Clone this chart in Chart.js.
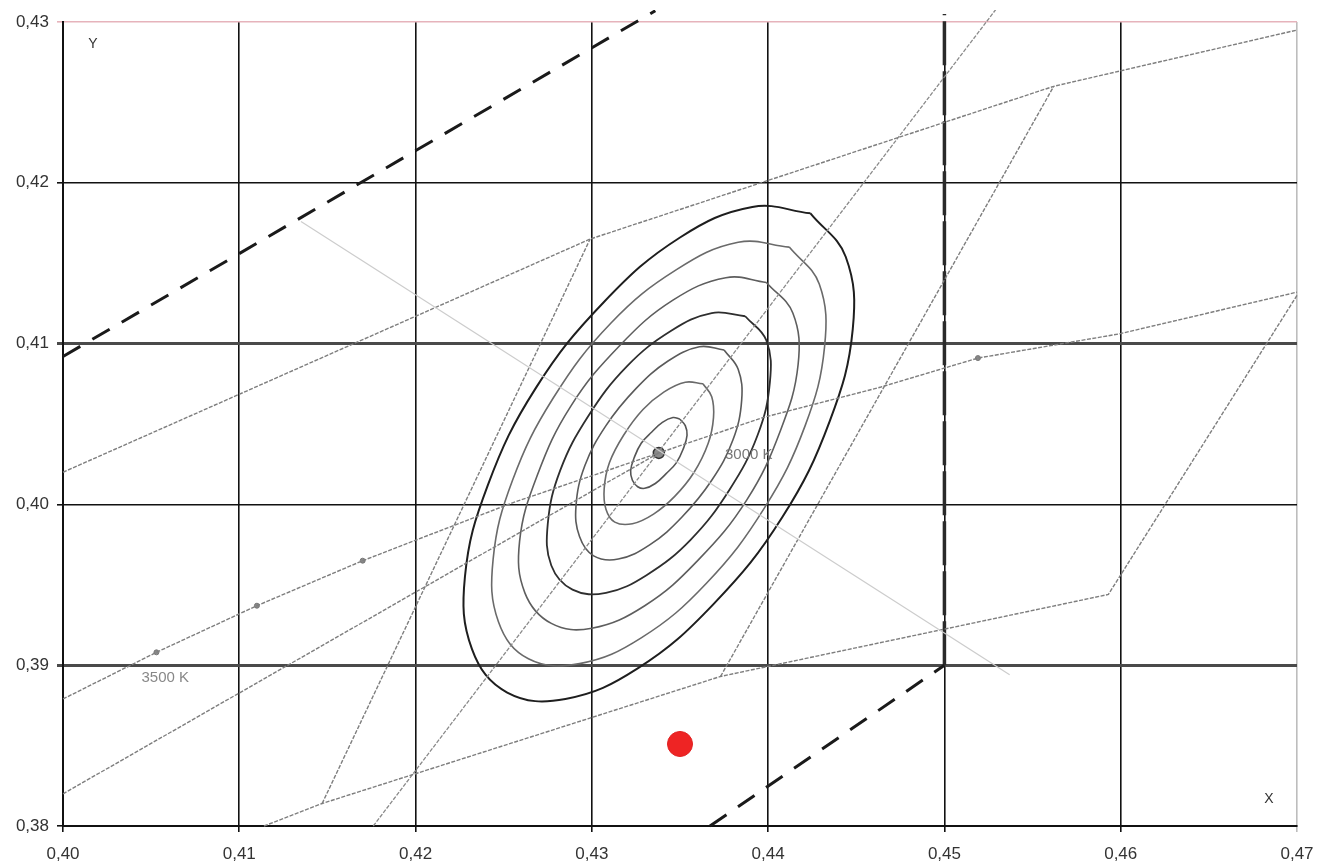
<!DOCTYPE html>
<html><head><meta charset="utf-8">
<script src="https://cdn.jsdelivr.net/npm/chart.js@4.4.0/dist/chart.umd.min.js"></script>
<style>html,body{margin:0;padding:0;background:#fff}#wrap{width:1317px;height:867px}</style>
</head><body><div id="wrap"><canvas id="c" width="1317" height="867"></canvas></div>
<script>
// ---- axis ticks ----
const xTickValues = [0.40, 0.41, 0.42, 0.43, 0.44, 0.45, 0.46, 0.47];
const xTickLabels = ['0,40', '0,41', '0,42', '0,43', '0,44', '0,45', '0,46', '0,47'];
const yTickValues = [0.38, 0.39, 0.40, 0.41, 0.42, 0.43];
const yTickLabels = ['0,38', '0,39', '0,40', '0,41', '0,42', '0,43'];

// ---- quadrangle edges (x, y) ----
const quadTopEdge = [[0.40, 0.4020], [0.4299, 0.4165], [0.4562, 0.4260], [0.47, 0.4295]];
const quadBottomEdge = [[0.4114, 0.38], [0.4147, 0.3814], [0.4373, 0.3893], [0.4593, 0.3944], [0.47, 0.4130]];
const quadLeftEdge3000 = [[0.4147, 0.3814], [0.4299, 0.4165]];
const quadRightEdge3000 = [[0.4373, 0.3893], [0.4562, 0.4260]];

// ---- Planckian locus and other guide lines ----
const planckianLocus = [[0.40, 0.3879], [0.4053, 0.3908], [0.4110, 0.3937], [0.4170, 0.3965], [0.4255, 0.4001], [0.4338, 0.4032], [0.4397, 0.4054], [0.4464, 0.4073], [0.4519, 0.4091], [0.4599, 0.4106], [0.47, 0.4132]];
const planckianMarks = [[0.4053, 0.3908], [0.4110, 0.3937], [0.4170, 0.3965], [0.4519, 0.4091]];
const centerLine = [[0.40, 0.3820], [0.4338, 0.4032]];
const majorAxis = [[0.4176, 0.38], [0.4530, 0.4309]];
const isotherm3000 = [[0.4135, 0.4176], [0.4537, 0.3894]];

// ---- bin boundary (thick dashed) ----
const binUpper = [[0.40, 0.4092], [0.4336, 0.4307]];
const binLowerDiag = [[0.4367, 0.38], [0.45, 0.39]];
const binLowerVert = [[0.45, 0.39], [0.45, 0.4305]];

// ---- MacAdam ellipses, 1 to 7 steps ----
const ellipse1 = [[0.4350,0.4053],[0.4346,0.4054],[0.4340,0.4051],[0.4334,0.4045],[0.4328,0.4038],[0.4324,0.4029],[0.4322,0.4021],[0.4323,0.4015],[0.4326,0.4011],[0.4330,0.4010],[0.4336,0.4013],[0.4342,0.4019],[0.4348,0.4026],[0.4352,0.4035],[0.4354,0.4043],[0.4353,0.4049],[0.4350,0.4053]];
const ellipse2 = [[0.4363,0.4075],[0.4353,0.4076],[0.4341,0.4070],[0.4329,0.4059],[0.4318,0.4043],[0.4310,0.4026],[0.4307,0.4010],[0.4308,0.3997],[0.4313,0.3989],[0.4323,0.3988],[0.4335,0.3994],[0.4347,0.4005],[0.4358,0.4020],[0.4366,0.4038],[0.4369,0.4054],[0.4368,0.4067],[0.4363,0.4075]];
const ellipse3 = [[0.4375,0.4096],[0.4361,0.4098],[0.4343,0.4089],[0.4325,0.4072],[0.4308,0.4049],[0.4296,0.4024],[0.4291,0.3999],[0.4293,0.3980],[0.4301,0.3968],[0.4315,0.3966],[0.4333,0.3975],[0.4351,0.3992],[0.4368,0.4015],[0.4380,0.4040],[0.4385,0.4065],[0.4383,0.4084],[0.4375,0.4096]];
const ellipse4 = [[0.4387,0.4117],[0.4368,0.4119],[0.4345,0.4108],[0.4320,0.4086],[0.4298,0.4055],[0.4282,0.4021],[0.4275,0.3988],[0.4277,0.3962],[0.4289,0.3947],[0.4308,0.3945],[0.4331,0.3956],[0.4356,0.3978],[0.4378,0.4009],[0.4394,0.4043],[0.4401,0.4076],[0.4399,0.4102],[0.4387,0.4117]];
const ellipse5 = [[0.4399,0.4138],[0.4376,0.4141],[0.4346,0.4127],[0.4316,0.4099],[0.4288,0.4061],[0.4269,0.4018],[0.4259,0.3977],[0.4262,0.3945],[0.4277,0.3926],[0.4300,0.3923],[0.4330,0.3937],[0.4360,0.3965],[0.4388,0.4003],[0.4407,0.4046],[0.4417,0.4087],[0.4414,0.4119],[0.4399,0.4138]];
const ellipse6 = [[0.4412,0.4160],[0.4383,0.4163],[0.4348,0.4146],[0.4311,0.4113],[0.4278,0.4066],[0.4255,0.4015],[0.4244,0.3966],[0.4247,0.3927],[0.4264,0.3904],[0.4293,0.3901],[0.4328,0.3917],[0.4365,0.3951],[0.4398,0.3998],[0.4421,0.4049],[0.4432,0.4098],[0.4429,0.4137],[0.4412,0.4160]];
const ellipse7 = [[0.4424,0.4181],[0.4391,0.4185],[0.4350,0.4166],[0.4307,0.4126],[0.4268,0.4072],[0.4241,0.4012],[0.4228,0.3955],[0.4232,0.3910],[0.4252,0.3883],[0.4285,0.3879],[0.4326,0.3898],[0.4369,0.3938],[0.4408,0.3992],[0.4435,0.4052],[0.4448,0.4109],[0.4444,0.4154],[0.4424,0.4181]];

// ---- points ----
const centerPoint = [[0.4338, 0.4032]];
const redSample = [[0.4350, 0.3851]];

// ---- text labels ----
const textLabels = [
  {text: 'Y', x: 0.4017, y: 0.4286, color: '#333', size: 14},
  {text: 'X', x: 0.4684, y: 0.3817, color: '#333', size: 14},
  {text: '3000 K', x: 0.4389, y: 0.4031, color: '#777', size: 15},
  {text: '3500 K', x: 0.4058, y: 0.3892, color: '#888', size: 15}
];

const toXY = arr => arr.map(p => ({x: p[0], y: p[1]}));
function lineDs(arr, color, width, dash, tension) {
  return {data: toXY(arr), showLine: true, pointRadius: 0, borderColor: color, borderWidth: width,
    borderDash: dash || [], fill: false, tension: tension || 0, clip: 12};
}
const gray = '#7e7e7e';
const gdash = [4, 1.5];
const datasets = [
  lineDs(isotherm3000, '#cccccc', 1.2),
  lineDs(quadTopEdge, gray, 1.4, gdash),
  lineDs(quadBottomEdge, gray, 1.4, gdash),
  lineDs(quadLeftEdge3000, gray, 1.4, gdash),
  lineDs(quadRightEdge3000, gray, 1.4, gdash),
  lineDs(planckianLocus, gray, 1.4, gdash),
  lineDs(centerLine, gray, 1.4, gdash),
  lineDs(majorAxis, '#8a8a8a', 1.3, gdash),
  lineDs(ellipse1, '#555', 1.6, null, 0.4),
  lineDs(ellipse2, '#6a6a6a', 1.6, null, 0.4),
  lineDs(ellipse3, '#5a5a5a', 1.6, null, 0.4),
  lineDs(ellipse4, '#2e2e2e', 1.8, null, 0.4),
  lineDs(ellipse5, '#5e5e5e', 1.6, null, 0.4),
  lineDs(ellipse6, '#6a6a6a', 1.6, null, 0.4),
  lineDs(ellipse7, '#1e1e1e', 2, null, 0.4),
  lineDs(binUpper, '#1a1a1a', 3, [20, 14]),
  lineDs(binLowerDiag, '#1a1a1a', 3, [20, 14]),
  lineDs(binLowerVert, '#2a2a2a', 3.5, [44, 6]),
  {data: toXY(planckianMarks), showLine: false, pointRadius: 2.5, pointBackgroundColor: '#888', pointBorderColor: '#777', pointBorderWidth: 1},
  {data: toXY(centerPoint), showLine: false, pointRadius: 5.5, pointBackgroundColor: '#8a8a8a', pointBorderColor: '#333', pointBorderWidth: 1.5},
  {data: toXY(redSample), showLine: false, pointRadius: 12.5, pointBackgroundColor: '#ee2424', pointBorderColor: '#e02020', pointBorderWidth: 1}
];

const textPlugin = {
  id: 'texts',
  afterDatasetsDraw(chart) {
    const c = chart.ctx, xs = chart.scales.x, ys = chart.scales.y;
    c.save();
    textLabels.forEach(t => {
      c.font = t.size + 'px "Liberation Sans", Arial, sans-serif';
      c.fillStyle = t.color;
      c.textAlign = 'center';
      c.textBaseline = 'middle';
      c.fillText(t.text, xs.getPixelForValue(t.x), ys.getPixelForValue(t.y));
    });
    c.restore();
  }
};

function yGridColor(ctx) {
  const v = yTickValues[ctx.index];
  if (v === 0.43) return '#e6b3bb';
  if (v === 0.39 || v === 0.41) return '#4a4a4a';
  return '#111';
}
function yGridWidth(ctx) {
  const v = yTickValues[ctx.index];
  if (v === 0.39 || v === 0.41) return 3;
  return 1.6;
}
function xGridColor(ctx) {
  const v = xTickValues[ctx.index];
  if (v === 0.47) return '#bdbdbd';
  return '#111';
}

new Chart(document.getElementById('c'), {
  type: 'scatter',
  data: {datasets},
  plugins: [textPlugin],
  options: {
    responsive: false,
    animation: false,
    devicePixelRatio: 1,
    layout: {padding: {top: 22, right: 20, left: 0, bottom: 0}},
    plugins: {legend: {display: false}, tooltip: {enabled: false}},
    scales: {
      x: {
        type: 'linear', min: 0.40, max: 0.47,
        afterBuildTicks: s => { s.ticks = xTickValues.map(v => ({value: v})); },
        afterFit: s => { s.height = 41; s.paddingLeft = 0; s.paddingRight = 0; },
        grid: {color: xGridColor, lineWidth: 1.6, tickLength: 6, drawOnChartArea: true},
        border: {display: true, color: '#111', width: 2},
        ticks: {callback: (v, i) => xTickLabels[i], color: '#333', padding: 12, maxRotation: 0,
          font: {family: '"Liberation Sans", Arial, sans-serif', size: 17}}
      },
      y: {
        type: 'linear', min: 0.38, max: 0.43,
        afterBuildTicks: s => { s.ticks = yTickValues.map(v => ({value: v})); },
        afterFit: s => { s.width = 63; s.paddingTop = 0; s.paddingBottom = 0; },
        grid: {color: yGridColor, lineWidth: yGridWidth, tickLength: 6},
        border: {display: true, color: '#111', width: 2},
        ticks: {callback: (v, i) => yTickLabels[i], color: '#333', padding: 8,
          font: {family: '"Liberation Sans", Arial, sans-serif', size: 17}}
      }
    }
  }
});
</script>
</body></html>
